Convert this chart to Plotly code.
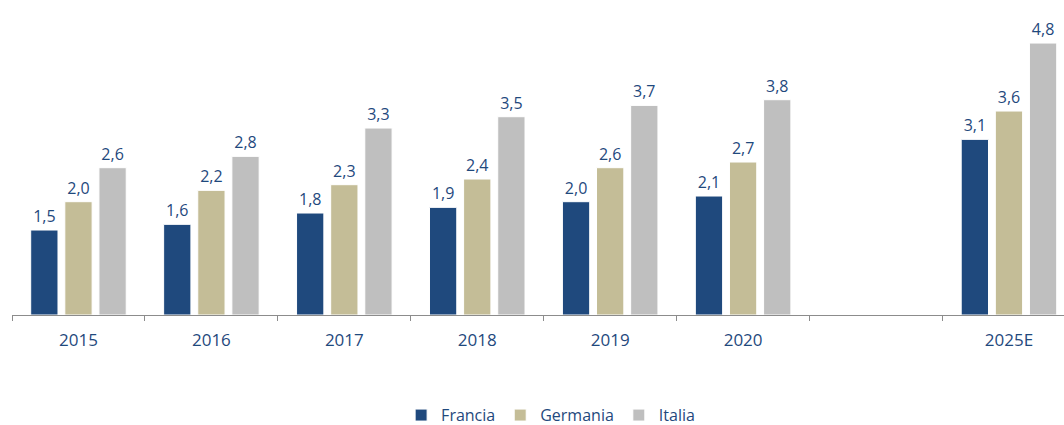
import plotly.graph_objects as go

categories = ["2015", "2016", "2017", "2018", "2019", "2020", " ", "2025E"]
francia = [1.5, 1.6, 1.8, 1.9, 2.0, 2.1, None, 3.1]
germania = [2.0, 2.2, 2.3, 2.4, 2.6, 2.7, None, 3.6]
italia = [2.6, 2.8, 3.3, 3.5, 3.7, 3.8, None, 4.8]

series = [("Francia", francia, "#1F497D"),
          ("Germania", germania, "#C4BD97"),
          ("Italia", italia, "#BFBFBF")]

FONT = "Open Sans"
TXT = "#1F497D"

fig = go.Figure()
for name, vals, col in series:
    fig.add_trace(go.Bar(
        name=name, x=categories, y=vals,
        marker=dict(color=col, line=dict(color="white", width=1)),
        texttemplate="%{y:.1f}", textposition="outside",
        textfont=dict(family=FONT, size=16, color=TXT),
        cliponaxis=False,
    ))

fig.update_layout(
    width=1064, height=425,
    barmode="group", bargap=0.23, bargroupgap=0.2,
    separators=",.",
    plot_bgcolor="white", paper_bgcolor="white",
    margin=dict(l=11.5, r=0, t=0, b=110, autoexpand=False),
    showlegend=True,
    legend=dict(orientation="h", x=0.512, xanchor="center", y=-0.318, yanchor="middle",
                font=dict(family=FONT, size=16, color=TXT), traceorder="normal",
                itemwidth=30),
    xaxis=dict(type="category", range=[-0.5, 7.414], showline=True, linecolor="#8C8C8C",
               linewidth=1, ticks="outside", ticklen=5, tickcolor="#8C8C8C",
               tickson="boundaries", showgrid=False,
               tickfont=dict(family=FONT, size=17, color=TXT), ticklabelstandoff=10),
    yaxis=dict(range=[0, 5.56], visible=False, showgrid=False, zeroline=False),
)

fig.write_html("out.html", config={"displayModeBar": False},
               post_script="document.body.style.margin='0';document.body.style.overflow='hidden';")
